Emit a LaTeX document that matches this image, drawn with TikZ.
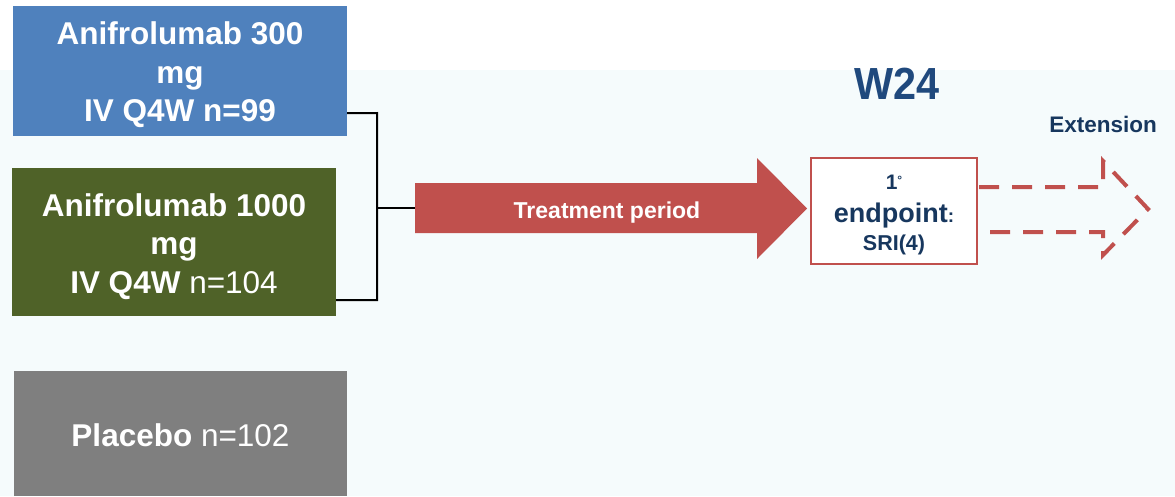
\documentclass[tikz,border=0pt]{standalone}
\usepackage{fontspec}
\usepackage{graphicx}
\setmainfont{Liberation Sans}
\definecolor{bgc}{RGB}{245,251,252}
\definecolor{bluec}{RGB}{79,129,189}
\definecolor{greenc}{RGB}{79,98,40}
\definecolor{grayc}{RGB}{127,127,127}
\definecolor{redc}{RGB}{192,80,77}
\definecolor{navyc}{RGB}{23,55,94}
\definecolor{wblue}{RGB}{31,73,125}
\begin{document}
\begin{tikzpicture}[x=1pt,y=-1pt,
  armbox/.style={draw=none, inner sep=0pt},
  armtext/.style={inner sep=0pt, text=white, align=center,
    font=\bfseries\fontsize{31.5}{38.5}\selectfont},
  conn/.style={draw=black, line width=2pt},
  navytext/.style={text=navyc, inner sep=0pt, anchor=base},
  dasharrow/.style={draw=redc, line width=4pt, dash pattern=on 20pt off 13pt, line join=miter}
]
\useasboundingbox (0,0) rectangle (1175,496);
\fill[bgc] (0,70) rectangle (1175,496);

% arm boxes
\node[armbox, fill=bluec, minimum width=334pt, minimum height=130pt] (blue) at (180,71) {};
\node[armtext] (bluet) at (180,75) {Anifrolumab 300\\mg\\IV Q4W n=99};
\node[armbox, fill=greenc, minimum width=324pt, minimum height=148pt] (green) at (174,242) {};
\node[armtext] (greent) at (174,246.5) {Anifrolumab 1000\\mg\\IV Q4W {\mdseries n=104}};
\node[armbox, fill=grayc, minimum width=333pt, minimum height=125pt] (gray) at (180.5,433.5) {};
\node[armtext, anchor=base] (grayt) at (180.5,446) {Placebo {\mdseries n=102}};

% connector
\coordinate (jt) at (377,113);
\coordinate (jb) at (377,300);
\coordinate (jm) at (377,208);
\coordinate (tail) at (415,208);
\draw[conn] ([yshift=23pt]blue.south east) -- (jt) -- (jb) -- ([yshift=16pt]green.south east);
\draw[conn] (jm) -- (tail);

% treatment arrow
\fill[redc] (415,183) -- (757,183) -- (757,158) -- (807,208.5) -- (757,259) -- (757,233) -- (415,233) -- cycle;
\node[text=white, inner sep=0pt, anchor=base, font=\bfseries\fontsize{23}{23}\selectfont] (treat) at (607,218) {Treatment period};

% endpoint box
\node[draw=redc, line width=2pt, fill=white, minimum width=166pt, minimum height=106pt, inner sep=0pt] (ep) at (894,211) {};
\node[navytext, font=\bfseries\fontsize{21}{21}\selectfont] (ep1) at (894,189)
  {1\raisebox{5pt}{\fontsize{12}{12}\selectfont °}};
\node[navytext, font=\bfseries\fontsize{27}{27}\selectfont] (ep2) at (894,222)
  {endpoint{\fontsize{19}{19}\selectfont:}};
\node[navytext, font=\bfseries\fontsize{21.5}{21.5}\selectfont] (ep3) at (894,250) {SRI(4)};

% W24 and Extension
\node[navytext, text=wblue, font=\bfseries\fontsize{45}{45}\selectfont] (w24) at (897,99) {\scalebox{0.92}[1]{W24}};
\node[navytext, font=\bfseries\fontsize{22.5}{22.5}\selectfont] (ext) at (1103,132) {Extension};

% dashed extension arrow
\coordinate (dt) at (979,187);
\coordinate (db) at (979,232);
\draw[dasharrow] (dt) -- (1103,187) -- (1103,161) -- (1148,209) -- (1103,255) -- (1103,232) -- (db);
\end{tikzpicture}
\end{document}
